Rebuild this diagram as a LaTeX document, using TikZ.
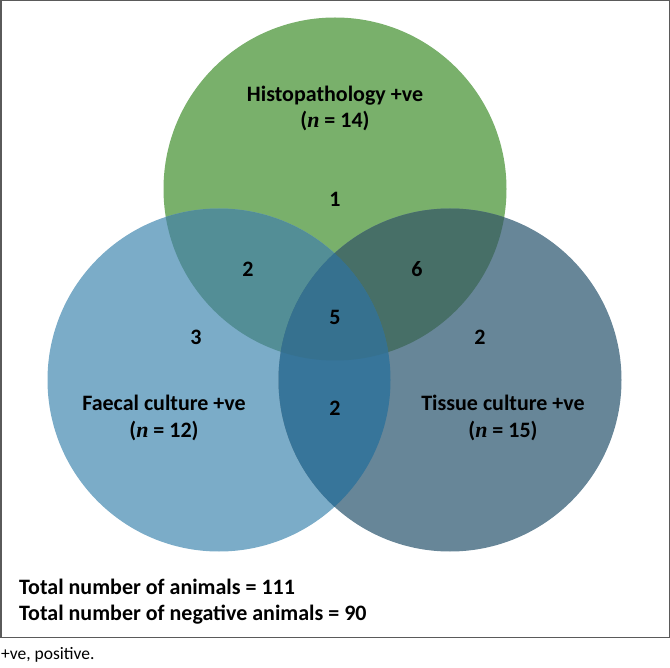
\documentclass[tikz,border=0pt]{standalone}
\usepackage{fontspec}
\setmainfont{Carlito}
\newfontfamily\nfont{Liberation Serif}
\definecolor{cTop}{HTML}{79B06B}
\definecolor{cLeft}{HTML}{7BACC8}
\definecolor{cRight}{HTML}{678698}
\definecolor{cTL}{HTML}{538E96}
\definecolor{cTR}{HTML}{476F67}
\definecolor{cLR}{HTML}{37759A}
\definecolor{cAll}{HTML}{36718F}
\definecolor{frameC}{HTML}{5A5A5A}
\tikzset{
  lbl/.style={anchor=base, inner sep=0pt, font=\fontsize{22}{27}\selectfont\bfseries},
  notetext/.style={anchor=base west, inner sep=0pt, font=\fontsize{22}{27}\selectfont\bfseries},
  captext/.style={anchor=base west, inner sep=0pt, font=\fontsize{17.5}{20}\selectfont},
}
\newcommand{\nn}{{\nfont\bfseries\itshape n}}
\begin{document}
\begin{tikzpicture}[x=1pt,y=-1pt]
\useasboundingbox (0,0) rectangle (670,668);
\def\R{171.5}
\coordinate (T) at (335,189);
\coordinate (L) at (219,380);
\coordinate (Rc) at (450,380);
% base circles
\fill[cTop] (T) circle (\R);
\fill[cLeft] (L) circle (\R);
\fill[cRight] (Rc) circle (\R);
% pairwise overlaps
\begin{scope}
  \clip (T) circle (\R);
  \fill[cTL] (L) circle (\R);
  \fill[cTR] (Rc) circle (\R);
\end{scope}
\begin{scope}
  \clip (L) circle (\R);
  \fill[cLR] (Rc) circle (\R);
\end{scope}
\begin{scope}
  \clip (T) circle (\R);
  \clip (L) circle (\R);
  \fill[cAll] (Rc) circle (\R);
\end{scope}
% frame
\draw[frameC, line width=1.5pt] (0.75,0.75) rectangle (669.25,637.5);
% labels
\node[lbl] (h1) at (335,102) {Histopathology +ve};
\node[lbl] (h2) at (335,128) {(\nn{} = 14)};
\node[lbl] (f1) at (164,411) {Faecal culture +ve};
\node[lbl] (f2) at (164,438) {(\nn{} = 12)};
\node[lbl] (t1) at (503,411) {Tissue culture +ve};
\node[lbl] (t2) at (503,438) {(\nn{} = 15)};
% counts
\node[lbl] (n1) at (335,207) {1};
\node[lbl] (n2a) at (248,277) {2};
\node[lbl] (n6) at (417,277) {6};
\node[lbl] (n5) at (335,325) {5};
\node[lbl] (n3) at (196,345) {3};
\node[lbl] (n2b) at (480,345) {2};
\node[lbl] (n2c) at (335,416) {2};
% totals
\node[notetext] (tot1) at (19,594) {Total number of animals = 111};
\node[notetext] (tot2) at (19,620) {Total number of negative animals = 90};
% caption
\node[captext] (caption) at (1,659) {+ve, positive.};
\end{tikzpicture}
\end{document}
